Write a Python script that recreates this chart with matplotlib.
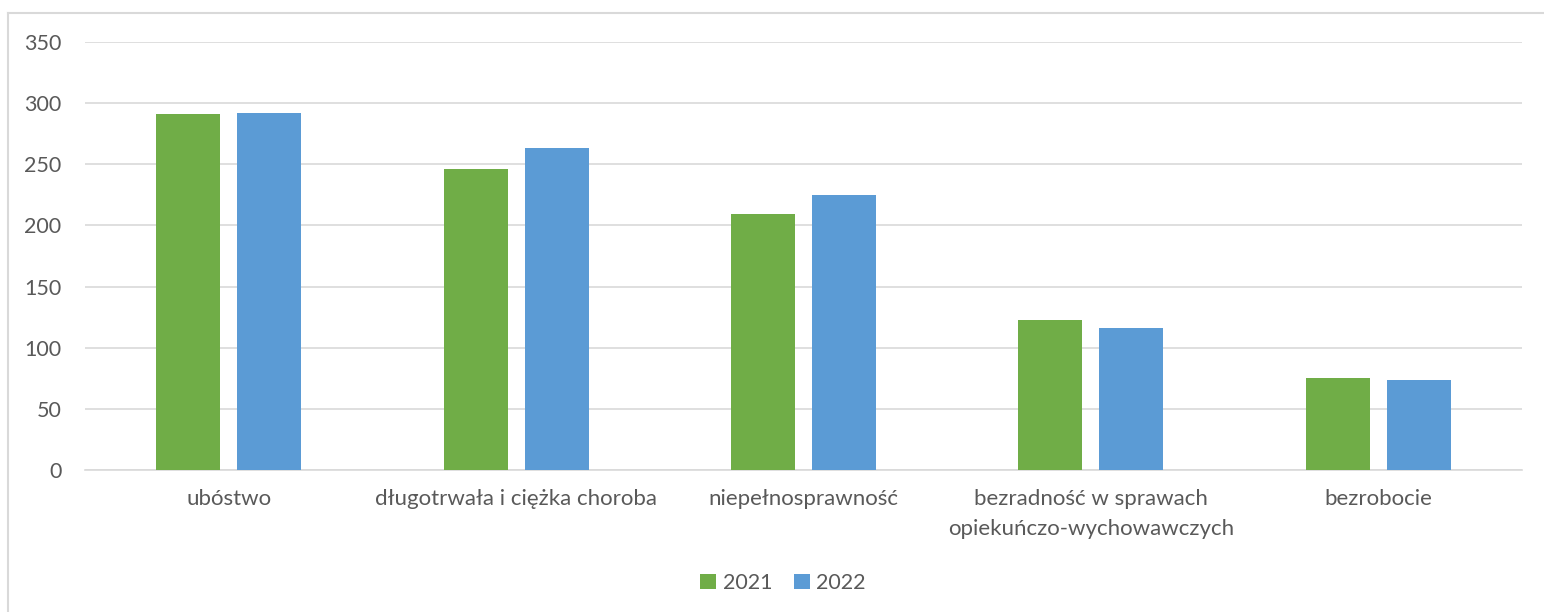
import matplotlib.pyplot as plt
import numpy as np
from matplotlib.lines import Line2D

plt.rcParams['font.family'] = ['Lato', 'DejaVu Sans']

categories = ['ubóstwo', 'długotrwała i ciężka choroba', 'niepełnosprawność',
              'bezradność w sprawach\nopiekuńczo-wychowawczych', 'bezrobocie']
values_2021 = [291, 246, 209, 123, 75]
values_2022 = [292, 263, 225, 116, 74]
series_labels = ['2021', '2022']

GREEN = '#70AD47'
BLUE = '#5B9BD5'
TEXT = '#595959'
GRID = '#D9D9D9'

fig = plt.figure(figsize=(15.44, 6.12), dpi=100)
ax = fig.add_axes([85 / 1544, 1 - 470 / 612, (1522 - 85) / 1544, (470 - 42) / 612])

x = np.arange(len(categories))
w = 0.223
off = 0.141
ax.bar(x - off, values_2021, w, color=GREEN, label=series_labels[0], zorder=3)
ax.bar(x + off, values_2022, w, color=BLUE, label=series_labels[1], zorder=3)

ax.set_xlim(-0.5, len(categories) - 0.5)
ax.set_ylim(0, 350)
ax.set_yticks(range(0, 351, 50))
ax.set_xticks(x)
ax.set_xticklabels(categories, fontsize=16, color=TEXT, linespacing=1.6)
ax.tick_params(axis='y', labelsize=15.5, labelcolor=TEXT, length=0, pad=17)
ax.tick_params(axis='x', length=0, pad=14)
ax.grid(axis='y', color=GRID, linewidth=1.2, zorder=0)
for s in ['top', 'right', 'left']:
    ax.spines[s].set_visible(False)
ax.spines['bottom'].set_color(GRID)
ax.spines['bottom'].set_linewidth(1.2)

leg = fig.legend(loc='center', bbox_to_anchor=(783 / 1544, 1 - 583 / 612), ncol=2,
                 frameon=False, fontsize=15.5, handlelength=0.75, handleheight=0.75,
                 columnspacing=1.0, handletextpad=0.3)
for t in leg.get_texts():
    t.set_color(TEXT)

# outer chart frame (only top and left edges visible)
fig.add_artist(Line2D([7.5 / 1544, 1.01], [1 - 12.5 / 612] * 2, color=GRID, lw=1.5))
fig.add_artist(Line2D([7.5 / 1544] * 2, [-0.01, 1 - 12.5 / 612], color=GRID, lw=1.5))

fig.savefig('out.png', dpi=100, facecolor='white')
